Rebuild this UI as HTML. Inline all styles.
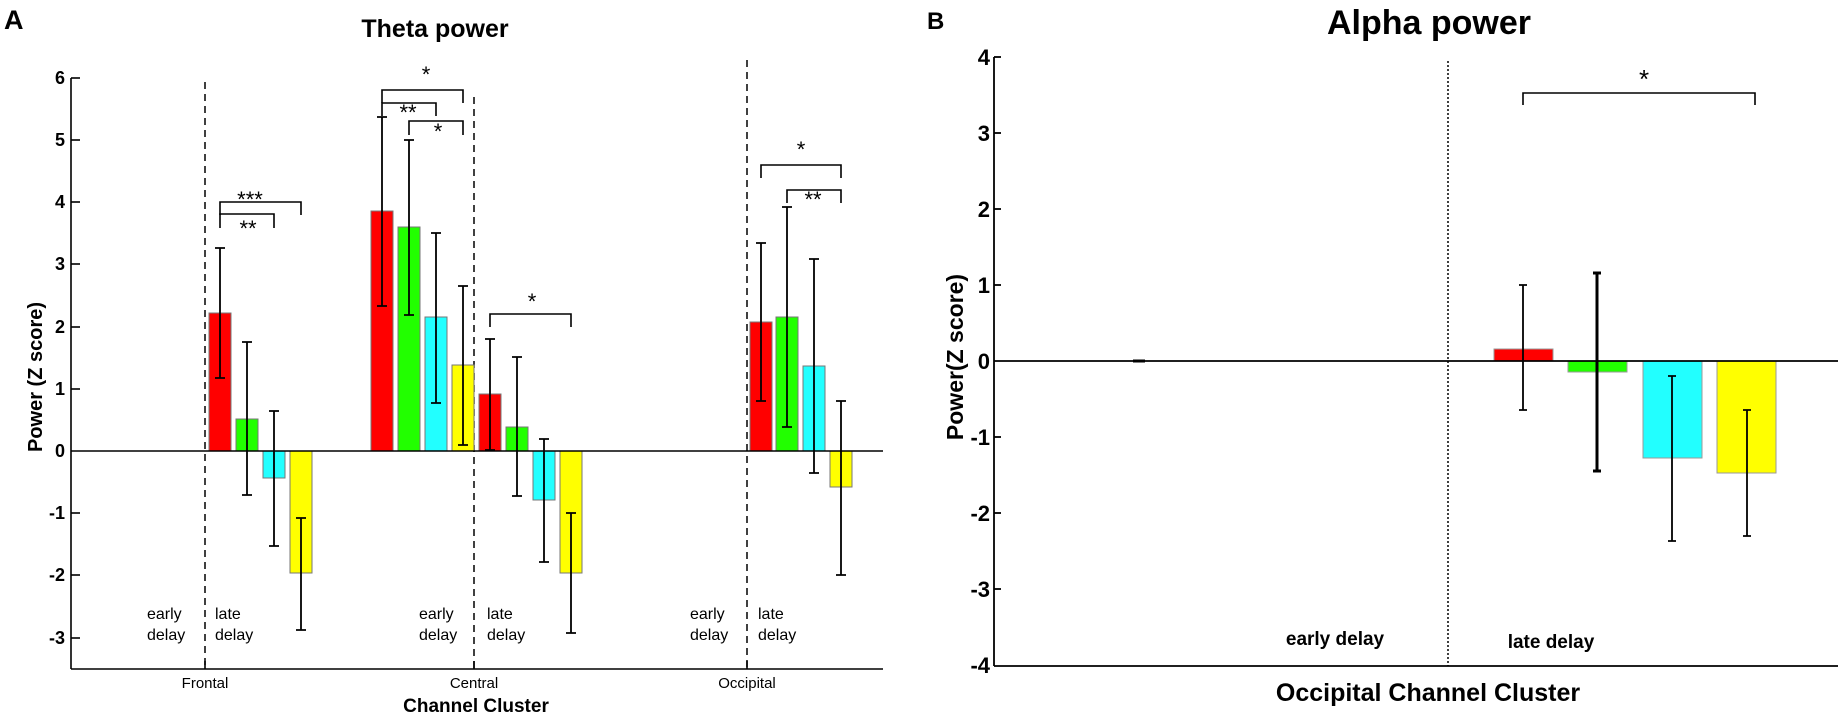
<!DOCTYPE html>
<html><head><meta charset="utf-8"><style>
html,body{margin:0;padding:0;background:#fff;}
svg{display:block;font-family:"Liberation Sans",Arial,sans-serif;}
</style></head><body>
<svg width="1841" height="721" viewBox="0 0 1841 721" xmlns="http://www.w3.org/2000/svg">
<!-- ===== Panel A ===== -->
<text x="4" y="29" font-size="27" font-weight="bold">A</text>
<text x="435" y="37" font-size="25" font-weight="bold" text-anchor="middle">Theta power</text>
<g stroke="#000" stroke-width="1.6" fill="none">
<line x1="71" y1="78" x2="71" y2="669"/>
<line x1="71" y1="669" x2="883" y2="669"/>
<line x1="71" y1="78" x2="80" y2="78"/><line x1="71" y1="140" x2="80" y2="140"/><line x1="71" y1="202" x2="80" y2="202"/><line x1="71" y1="264" x2="80" y2="264"/><line x1="71" y1="327" x2="80" y2="327"/><line x1="71" y1="389" x2="80" y2="389"/><line x1="71" y1="513" x2="80" y2="513"/><line x1="71" y1="575" x2="80" y2="575"/><line x1="71" y1="638" x2="80" y2="638"/>
<line x1="205" y1="669" x2="205" y2="661"/><line x1="474" y1="669" x2="474" y2="661"/><line x1="747" y1="669" x2="747" y2="661"/>
</g>
<g font-size="18" font-weight="bold" text-anchor="end">
<text x="65" y="84">6</text><text x="65" y="146">5</text><text x="65" y="208">4</text><text x="65" y="270">3</text><text x="65" y="333">2</text><text x="65" y="395">1</text><text x="65" y="457">0</text><text x="65" y="519">-1</text><text x="65" y="581">-2</text><text x="65" y="644">-3</text>
</g>
<text transform="translate(42,377) rotate(-90)" font-size="20" font-weight="bold" text-anchor="middle">Power (Z score)</text>
<g stroke="#000" stroke-width="1.5" stroke-dasharray="7,5">
<line x1="205" y1="82" x2="205" y2="669"/><line x1="474" y1="97" x2="474" y2="669"/><line x1="747" y1="60" x2="747" y2="669"/>
</g>
<!-- bars -->
<g stroke="#777" stroke-width="1">
<rect x="209" y="313" width="22" height="138" fill="#ff0000"/>
<rect x="236" y="419" width="22" height="32" fill="#22ff00"/>
<rect x="263" y="451" width="22" height="27" fill="#22ffff"/>
<rect x="290" y="451" width="22" height="122" fill="#ffff00"/>
<rect x="371" y="211" width="22" height="240" fill="#ff0000"/>
<rect x="398" y="227" width="22" height="224" fill="#22ff00"/>
<rect x="425" y="317" width="22" height="134" fill="#22ffff"/>
<rect x="452" y="365" width="22" height="86" fill="#ffff00"/>
<rect x="479" y="394" width="22" height="57" fill="#ff0000"/>
<rect x="506" y="427" width="22" height="24" fill="#22ff00"/>
<rect x="533" y="451" width="22" height="49" fill="#22ffff"/>
<rect x="560" y="451" width="22" height="122" fill="#ffff00"/>
<rect x="750" y="322" width="22" height="129" fill="#ff0000"/>
<rect x="776" y="317" width="22" height="134" fill="#22ff00"/>
<rect x="803" y="366" width="22" height="85" fill="#22ffff"/>
<rect x="830" y="451" width="22" height="36" fill="#ffff00"/>
</g>
<line x1="71" y1="451" x2="883" y2="451" stroke="#000" stroke-width="1.6"/>
<!-- error bars -->
<g stroke="#000" stroke-width="1.8" fill="none">
<path d="M220 248V378M215 248h10M215 378h10"/>
<path d="M247 342V495M242 342h10M242 495h10"/>
<path d="M274 411V546M269 411h10M269 546h10"/>
<path d="M301 518V630M296 518h10M296 630h10"/>
<path d="M382 117V306M377 117h10M377 306h10"/>
<path d="M409 140V315M404 140h10M404 315h10"/>
<path d="M436 233V403M431 233h10M431 403h10"/>
<path d="M463 286V445M458 286h10M458 445h10"/>
<path d="M490 339V450M485 339h10M485 450h10"/>
<path d="M517 357V496M512 357h10M512 496h10"/>
<path d="M544 439V562M539 439h10M539 562h10"/>
<path d="M571 513V633M566 513h10M566 633h10"/>
<path d="M761 243V401M756 243h10M756 401h10"/>
<path d="M787 207V427M782 207h10M782 427h10"/>
<path d="M814 259V473M809 259h10M809 473h10"/>
<path d="M841 401V575M836 401h10M836 575h10"/>
</g>
<!-- significance brackets -->
<g stroke="#000" stroke-width="1.6" fill="none">
<path d="M220 215V202H301V215"/>
<path d="M220 228V214H274V228"/>
<path d="M382 103V90H463V103"/>
<path d="M382 116V103H436V116"/>
<path d="M409 135V121H463V135"/>
<path d="M490 327V314H571V327"/>
<path d="M761 178V165H841V178"/>
<path d="M787 203V190H841V203"/>
</g>
<g font-size="22" text-anchor="middle">
<text x="250" y="207">***</text>
<text x="248" y="236">**</text>
<text x="426" y="82">*</text>
<text x="408" y="120">**</text>
<text x="438" y="139">*</text>
<text x="532" y="309">*</text>
<text x="801" y="157">*</text>
<text x="813" y="207">**</text>
</g>
<g font-size="16">
<text x="147" y="619">early</text><text x="147" y="640">delay</text>
<text x="215" y="619">late</text><text x="215" y="640">delay</text>
<text x="419" y="619">early</text><text x="419" y="640">delay</text>
<text x="487" y="619">late</text><text x="487" y="640">delay</text>
<text x="690" y="619">early</text><text x="690" y="640">delay</text>
<text x="758" y="619">late</text><text x="758" y="640">delay</text>
</g>
<g font-size="15" text-anchor="middle">
<text x="205" y="688">Frontal</text><text x="474" y="688">Central</text><text x="747" y="688">Occipital</text>
</g>
<text x="476" y="712" font-size="19" font-weight="bold" text-anchor="middle">Channel Cluster</text>

<!-- ===== Panel B ===== -->
<text x="927" y="29" font-size="24" font-weight="bold">B</text>
<text x="1429" y="34" font-size="34" font-weight="bold" text-anchor="middle">Alpha power</text>
<g stroke="#000" stroke-width="1.8" fill="none">
<line x1="994" y1="57" x2="994" y2="666"/>
<line x1="994" y1="666" x2="1838" y2="666"/>
<line x1="994" y1="57" x2="1001" y2="57"/><line x1="994" y1="133" x2="1001" y2="133"/><line x1="994" y1="209" x2="1001" y2="209"/><line x1="994" y1="285" x2="1001" y2="285"/><line x1="994" y1="437" x2="1001" y2="437"/><line x1="994" y1="513" x2="1001" y2="513"/><line x1="994" y1="589" x2="1001" y2="589"/>
</g>
<g font-size="22" font-weight="bold" text-anchor="end">
<text x="990" y="65">4</text><text x="990" y="141">3</text><text x="990" y="217">2</text><text x="990" y="293">1</text><text x="990" y="369">0</text><text x="990" y="445">-1</text><text x="990" y="521">-2</text><text x="990" y="597">-3</text><text x="990" y="673">-4</text>
</g>
<text transform="translate(963,357) rotate(-90)" font-size="23" font-weight="bold" text-anchor="middle">Power(Z score)</text>
<line x1="1448" y1="61" x2="1448" y2="666" stroke="#000" stroke-width="1.5" stroke-dasharray="2,2"/>
<g stroke="#999" stroke-width="1">
<rect x="1494" y="349" width="59" height="12" fill="#ff0000"/>
<rect x="1568" y="361" width="59" height="11" fill="#22ff00"/>
<rect x="1643" y="361" width="59" height="97" fill="#22ffff"/>
<rect x="1717" y="361" width="59" height="112" fill="#ffff00"/>
</g>
<line x1="994" y1="361" x2="1838" y2="361" stroke="#000" stroke-width="1.8"/>
<line x1="1133" y1="361" x2="1145" y2="361" stroke="#000" stroke-width="3"/>
<g stroke="#000" stroke-width="1.8" fill="none">
<path d="M1523 285V410M1519 285h8M1519 410h8"/>
<path d="M1672 376V541M1668 376h8M1668 541h8"/>
<path d="M1747 410V536M1743 410h8M1743 536h8"/>
</g>
<path d="M1597 273V471M1593 273h8M1593 471h8" stroke="#000" stroke-width="3" fill="none"/>
<path d="M1523 105V93H1755V105" stroke="#000" stroke-width="1.6" fill="none"/>
<text x="1644" y="88" font-size="26" text-anchor="middle">*</text>
<text x="1335" y="645" font-size="19" font-weight="bold" text-anchor="middle">early delay</text>
<text x="1551" y="648" font-size="19" font-weight="bold" text-anchor="middle">late delay</text>
<text x="1428" y="701" font-size="25" font-weight="bold" text-anchor="middle">Occipital Channel Cluster</text>
</svg>
</body></html>
